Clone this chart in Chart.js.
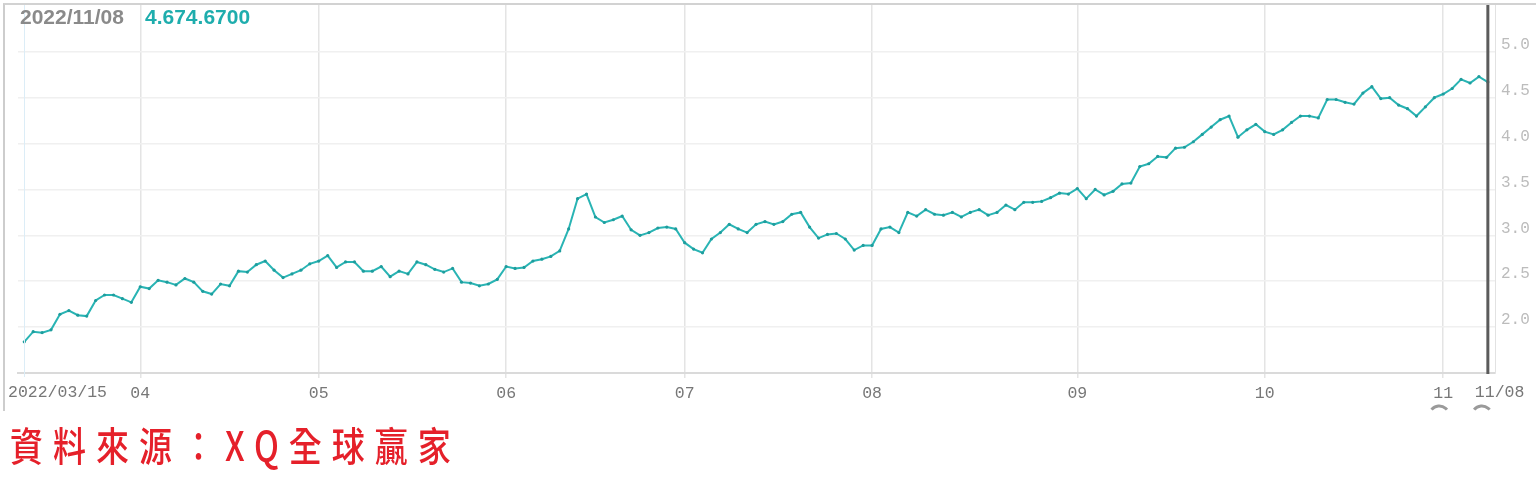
<!DOCTYPE html>
<html>
<head>
<meta charset="utf-8">
<script src="https://cdn.jsdelivr.net/npm/chart.js@4.4.0/dist/chart.umd.min.js"></script>
<style>
  html, body { margin: 0; padding: 0; background: #fff; }
  #wrap { position: relative; width: 1536px; height: 499px; overflow: hidden; }
  #frame { position: absolute; left: 3px; top: 3px; width: 1533px; height: 408px; border-top: 2px solid #d2d2d2; border-left: 2px solid #cdcdcd; box-sizing: border-box; }
  #chart { position: absolute; left: 0; top: 0; }
  .hdr { position: absolute; top: 5px; font: bold 21px "Liberation Sans", Arial, sans-serif; }
  #hdr-date { left: 20px; color: #8a8a8a; }
  #hdr-val { left: 145px; color: #1eadad; }
  #source { position: absolute; left: 10px; top: 424px; font-size: 33px; font-weight: 500; font-family: "Noto Sans CJK TC", sans-serif; color: #e5202a; letter-spacing: 10px; white-space: nowrap; transform: scaleY(1.22); transform-origin: left top; line-height: 1; }
</style>
</head>
<body>
<div id="wrap">
  <div id="frame"></div>
  <canvas id="chart" width="1536" height="499"></canvas>
  <div class="hdr" id="hdr-date">2022/11/08</div>
  <div class="hdr" id="hdr-val">4.674.6700</div>
  <div id="source">資料來源：XQ全球贏家</div>
</div>
<script>
// daily closes 2022/03/15 ~ 2022/11/08
const values = [
  1.84, 1.95, 1.94, 1.97, 2.14, 2.18, 2.13, 2.12, 2.29, 2.35,
  2.35, 2.31, 2.27, 2.44, 2.42, 2.51, 2.49, 2.46, 2.53, 2.49,
  2.39, 2.36, 2.47, 2.45, 2.61, 2.60, 2.68, 2.72, 2.62, 2.54,
  2.58, 2.62, 2.69, 2.72, 2.78, 2.65, 2.71, 2.71, 2.61, 2.61,
  2.66, 2.55, 2.61, 2.58, 2.71, 2.68, 2.63, 2.60, 2.64, 2.49,
  2.48, 2.45, 2.47, 2.52, 2.66, 2.64, 2.65, 2.72, 2.74, 2.77,
  2.83, 3.07, 3.40, 3.45, 3.20, 3.14, 3.17, 3.21, 3.06, 3.00,
  3.03, 3.08, 3.09, 3.07, 2.92, 2.85, 2.81, 2.96, 3.03, 3.12,
  3.07, 3.03, 3.12, 3.15, 3.12, 3.15, 3.23, 3.25, 3.09, 2.97,
  3.01, 3.02, 2.96, 2.84, 2.89, 2.89, 3.07, 3.09, 3.03, 3.25,
  3.21, 3.28, 3.23, 3.22, 3.25, 3.20, 3.25, 3.28, 3.22, 3.25,
  3.33, 3.28, 3.36, 3.36, 3.37, 3.41, 3.46, 3.45, 3.51, 3.40,
  3.50, 3.44, 3.48, 3.56, 3.57, 3.75, 3.78, 3.86, 3.85, 3.95,
  3.96, 4.02, 4.10, 4.18, 4.26, 4.30, 4.07, 4.15, 4.21, 4.13,
  4.10, 4.15, 4.23, 4.30, 4.30, 4.28, 4.48, 4.48, 4.45, 4.43,
  4.55, 4.62, 4.49, 4.50, 4.42, 4.38, 4.30, 4.40, 4.50, 4.54,
  4.60, 4.70, 4.66, 4.73, 4.67
];
const monthLabels = ['04', '05', '06', '07', '08', '09', '10', '11'];
const monthStart = [13, 33, 54, 74, 95, 118, 139, 159];   // index of first trading day
const endLabels = ['2022/03/15', '11/08'];
const yTicks = [2.0, 2.5, 3.0, 3.5, 4.0, 4.5, 5.0];

const tickFont = { family: 'Liberation Mono', size: 16.5 };

// crosshair, first/last date labels, little scroll marks
const overlay = {
  id: 'overlay',
  afterDatasetsDraw(chart) {
    const { ctx, chartArea: a, scales: { x } } = chart;
    const last = values.length - 1;
    ctx.save();
    // faint marker on first point
    ctx.strokeStyle = '#dcedf7';
    ctx.lineWidth = 1;
    ctx.beginPath();
    ctx.moveTo(Math.round(x.getPixelForValue(0)) + 0.5, a.top);
    ctx.lineTo(Math.round(x.getPixelForValue(0)) + 0.5, a.bottom + 4);
    ctx.stroke();
    // cursor line on last day
    const xl = x.getPixelForValue(last);
    ctx.strokeStyle = '#5b5b5b';
    ctx.lineWidth = 3;
    ctx.beginPath();
    ctx.moveTo(xl, a.top);
    ctx.lineTo(xl, a.bottom + 1);
    ctx.stroke();
    // end labels
    ctx.font = tickFont.size + 'px "' + tickFont.family + '"';
    ctx.fillStyle = '#777';
    ctx.textBaseline = 'middle';
    ctx.textAlign = 'left';
    ctx.fillText(endLabels[0], 8, 393);
    ctx.fillText(endLabels[1], xl - 13, 393);
    // scroll handles
    ctx.strokeStyle = '#9a9a9a';
    ctx.lineWidth = 3;
    [x.getPixelForValue(monthStart[monthStart.length - 1]) - 4, xl - 6].forEach(cx => {
      ctx.beginPath();
      ctx.arc(cx, 416, 10, 1.22 * Math.PI, 1.78 * Math.PI);
      ctx.stroke();
    });
    ctx.restore();
  }
};

new Chart(document.getElementById('chart').getContext('2d'), {
  type: 'line',
  data: {
    datasets: [{
      data: values.map((v, i) => ({ x: i, y: v })),
      borderColor: '#29b4b4',
      borderWidth: 2,
      pointRadius: 1.6,
      pointBorderWidth: 0,
      pointBackgroundColor: '#1e9d9d',
      tension: 0
    }]
  },
  options: {
    responsive: false,
    animation: false,
    events: [],
    layout: { padding: { left: 18, top: 5, right: 0, bottom: 90 } },
    plugins: { legend: { display: false }, tooltip: { enabled: false } },
    scales: {
      x: {
        type: 'linear',
        min: -0.7,
        max: 164.8,
        afterBuildTicks: s => { s.ticks = monthStart.map(v => ({ value: v })); },
        afterFit: s => { s.height = 36; s.paddingLeft = 0; s.paddingRight = 0; },
        ticks: {
          autoSkip: false,
          maxRotation: 0,
          padding: 6,
          color: '#777',
          font: tickFont,
          callback: v => monthLabels[monthStart.indexOf(v)]
        },
        grid: { color: '#e4e4e4', lineWidth: 1.5, tickLength: 5 },
        border: { color: '#dadada', width: 2 }
      },
      y: {
        position: 'right',
        min: 1.5,
        max: 5.51,
        afterBuildTicks: s => { s.ticks = yTicks.map(v => ({ value: v })); },
        afterFit: s => { s.width = 41; s.paddingTop = 0; s.paddingBottom = 0; },
        ticks: {
          padding: 6,
          labelOffset: -7,
          color: '#bcbcbc',
          font: { family: 'Liberation Mono', size: 16 },
          callback: v => v.toFixed(1)
        },
        grid: { color: '#f0f0f0', lineWidth: 1.5, drawTicks: false },
        border: { color: '#e2e2e2', width: 1 }
      }
    }
  },
  plugins: [overlay]
});
</script>
</body>
</html>
